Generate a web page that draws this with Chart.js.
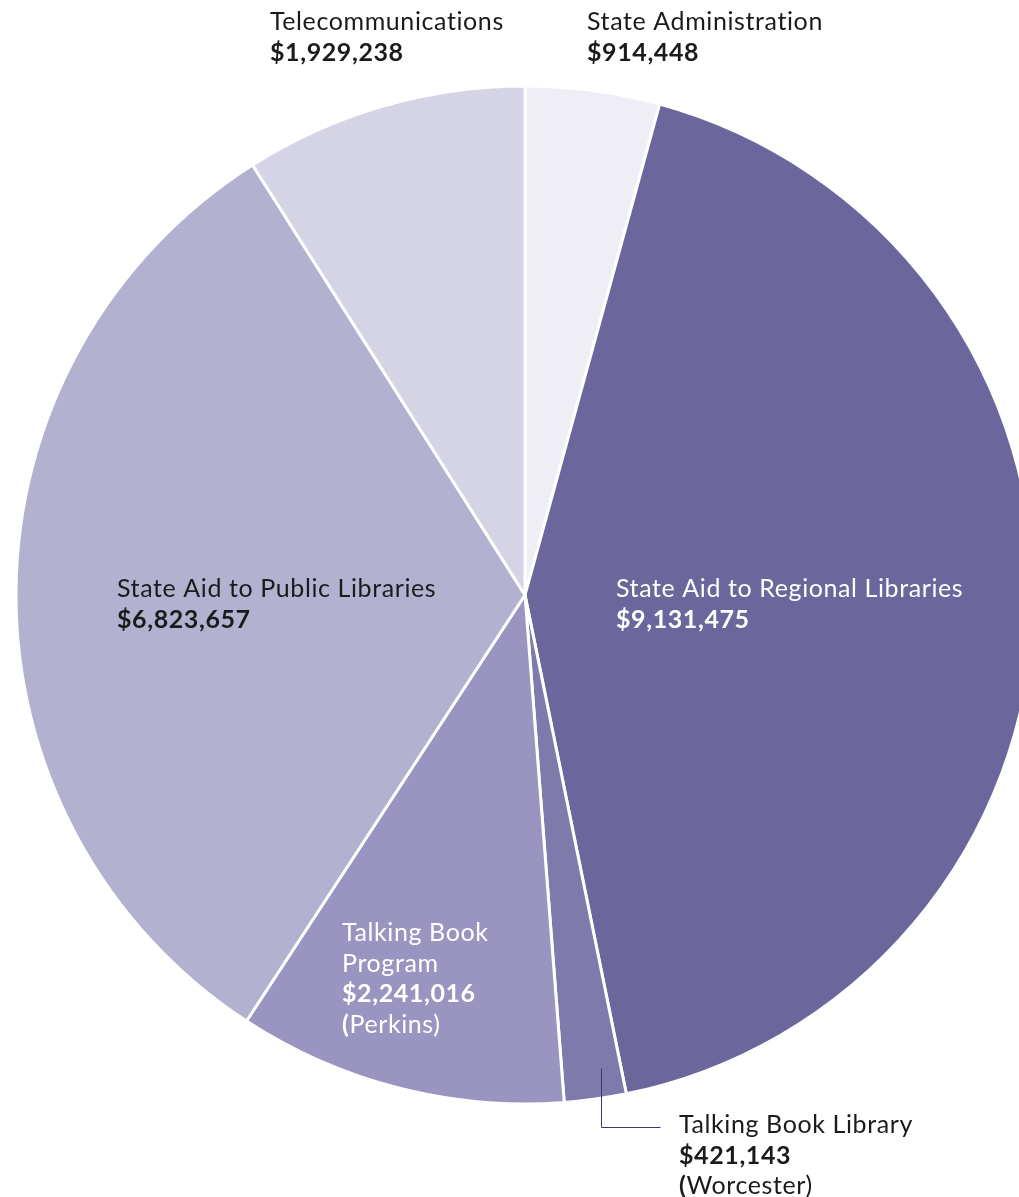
<!DOCTYPE html>
<html>
<head>
<meta charset="utf-8">
<script src="https://cdn.jsdelivr.net/npm/chart.js@4.4.1/dist/chart.umd.min.js"></script>
<style>
  html, body { margin: 0; padding: 0; background: #ffffff; overflow: hidden; width: 1019px; height: 1197px; }
  #wrap { position: absolute; left: 0; top: 0; width: 1100px; height: 1197px; }
</style>
</head>
<body>
<div id="wrap"><canvas id="c" width="1100" height="1197"></canvas></div>
<script>
// ---- Data ----
const categories = [
  "State Administration",
  "State Aid to Regional Libraries",
  "Talking Book Library",
  "Talking Book Program",
  "State Aid to Public Libraries",
  "Telecommunications"
];
const amounts = [914448, 9131475, 421143, 2241016, 6823657, 1929238];
const notes = ["", "", "(Worcester)", "(Perkins)", "", ""];
const sliceColors = ["#efeef5", "#6b679d", "#7e7aab", "#9995c0", "#b3b1d0", "#d5d3e6"];

// ---- Label layout (styling) ----
const labelLayout = [
  { x: 587, y: 22, lines: ["State Administration"], color: "#1b1b1b" },
  { x: 616, y: 589, lines: ["State Aid to Regional Libraries"], color: "#ffffff" },
  { x: 679, y: 1125, lines: ["Talking Book Library"], color: "#1b1b1b", leader: [[601, 1068], [601, 1127], [660, 1127]] },
  { x: 342, y: 933, lines: ["Talking Book", "Program"], color: "#ffffff" },
  { x: 117, y: 589, lines: ["State Aid to Public Libraries"], color: "#1b1b1b" },
  { x: 270, y: 22, lines: ["Telecommunications"], color: "#1b1b1b" }
];

const FONT = "Lato, 'Open Sans', sans-serif";
const FSIZE = 25;
const LINE_H = 30.5;

function fmt(v) { return "$" + v.toLocaleString("en-US"); }

const labelPlugin = {
  id: "sliceLabels",
  afterDraw(chart) {
    const ctx = chart.ctx;
    ctx.save();
    ctx.textBaseline = "middle";
    ctx.textAlign = "left";
    if ("letterSpacing" in ctx) ctx.letterSpacing = "0.6px";
    labelLayout.forEach((L, i) => {
      if (L.leader) {
        ctx.beginPath();
        ctx.strokeStyle = "#3b3868";
        ctx.lineWidth = 1;
        L.leader.forEach((p, k) => {
          const px = p[0] + 0.5, py = p[1] + 0.5;
          if (k === 0) ctx.moveTo(px, py); else ctx.lineTo(px, py);
        });
        ctx.stroke();
      }
      ctx.fillStyle = L.color;
      let y = L.y;
      ctx.font = "400 " + FSIZE + "px " + FONT;
      L.lines.forEach(t => { ctx.fillText(t, L.x, y); y += LINE_H; });
      ctx.font = "700 " + FSIZE + "px " + FONT;
      ctx.fillText(fmt(chart.data.datasets[0].data[i]), L.x, y);
      y += LINE_H;
      const note = notes[i];
      if (note) {
        ctx.font = "700 " + FSIZE + "px " + FONT;
        ctx.fillText(note[0], L.x, y);
        const w = ctx.measureText(note[0]).width;
        ctx.font = "400 " + FSIZE + "px " + FONT;
        ctx.fillText(note.slice(1), L.x + w, y);
      }
    });
    ctx.restore();
  }
};

new Chart(document.getElementById("c"), {
  type: "pie",
  data: {
    labels: categories,
    datasets: [{
      data: amounts,
      backgroundColor: sliceColors,
      borderColor: "#ffffff",
      borderWidth: 3,
      hoverOffset: 0
    }]
  },
  options: {
    responsive: false,
    devicePixelRatio: 1,
    animation: false,
    radius: 509,
    layout: { padding: { left: 16, top: 87, right: 66, bottom: 94 } },
    plugins: {
      legend: { display: false },
      tooltip: { enabled: false }
    }
  },
  plugins: [labelPlugin]
});
</script>
</body>
</html>
